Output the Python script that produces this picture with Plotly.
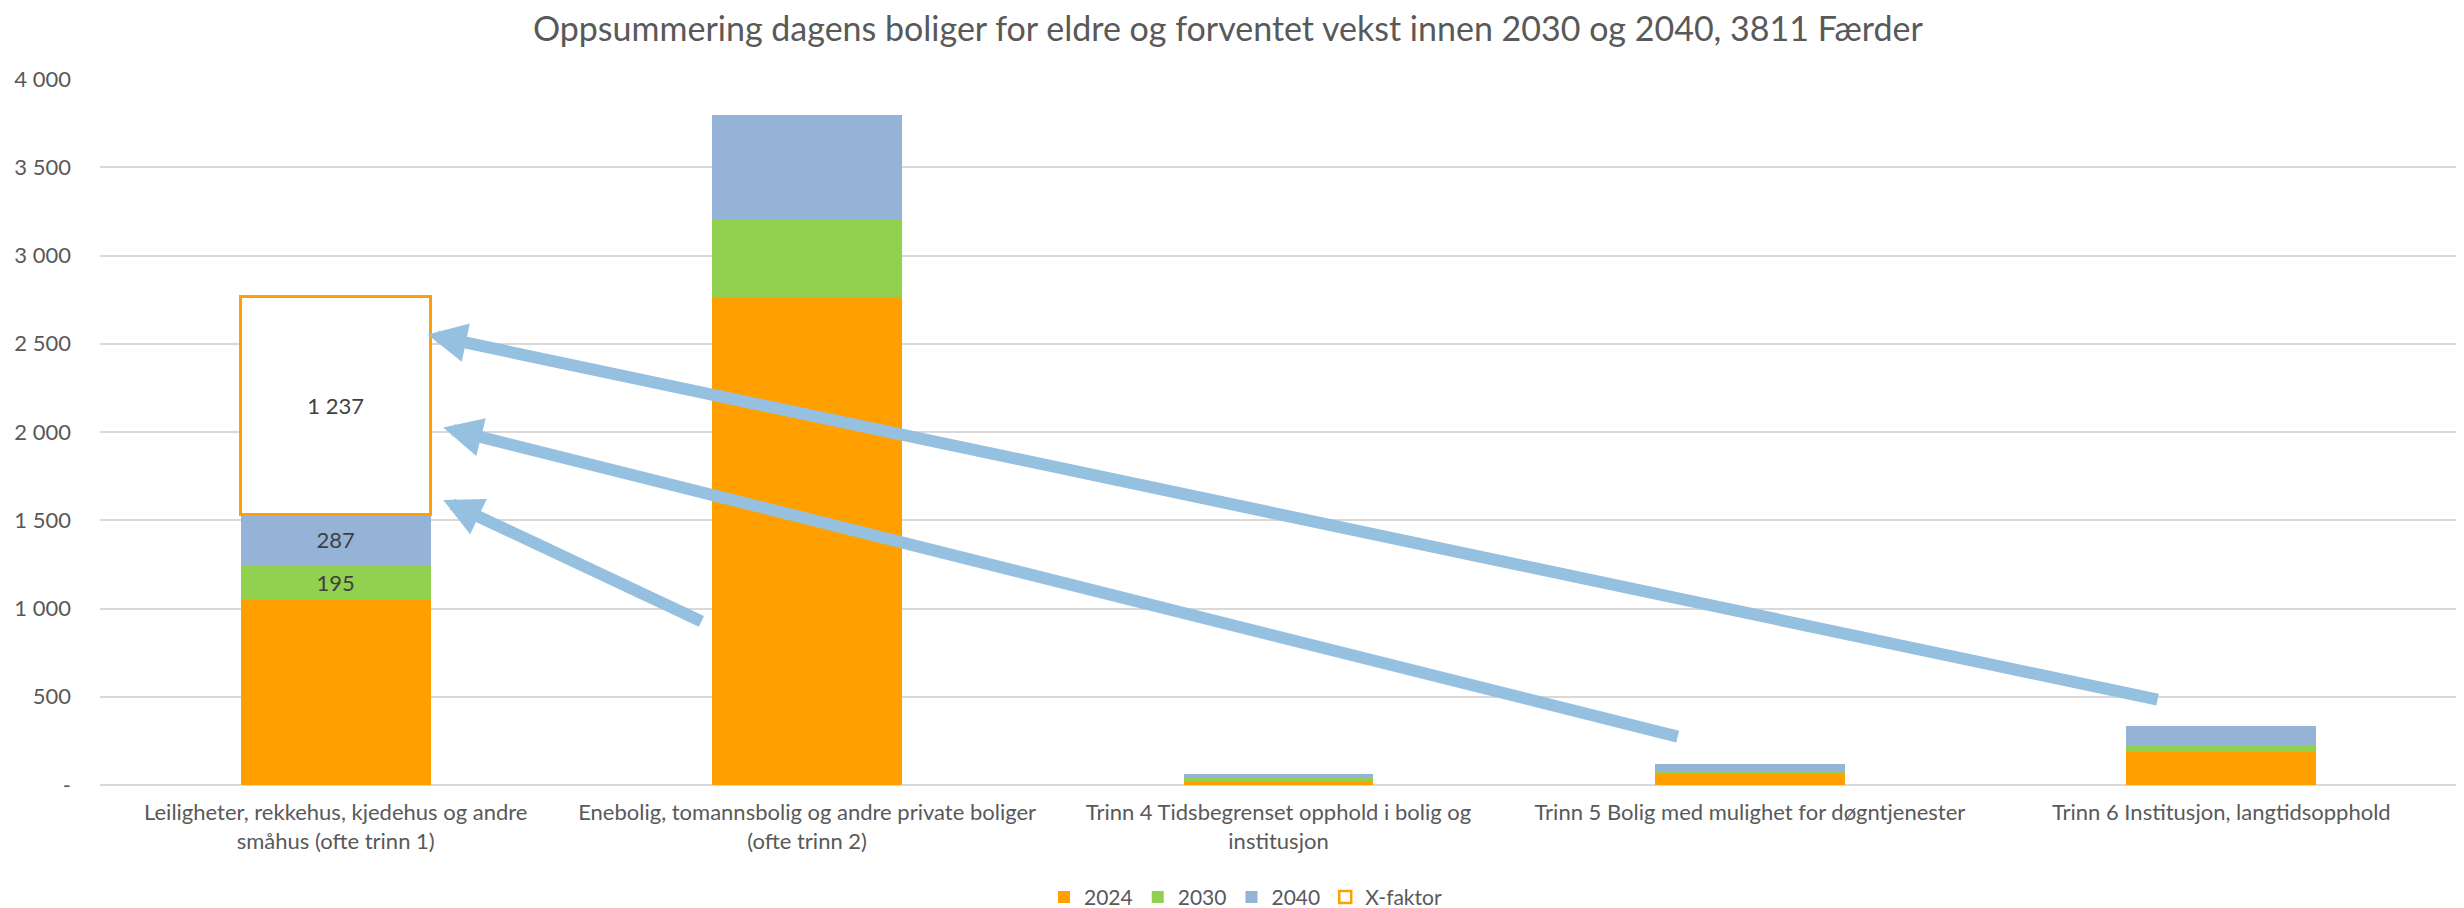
import plotly.graph_objects as go

categories = [
    "Leiligheter, rekkehus, kjedehus og andre<br>småhus (ofte trinn 1)",
    "Enebolig, tomannsbolig og andre private boliger<br>(ofte trinn 2)",
    "Trinn 4 Tidsbegrenset opphold i bolig og<br>institusjon",
    "Trinn 5 Bolig med mulighet for døgntjenester",
    "Trinn 6 Institusjon, langtidsopphold",
]
v2024 = [1050, 2765, 28, 60, 189]
v2030 = [195, 441, 10, 14, 36]
v2040 = [287, 591, 26, 47, 111]
xfaktor = [1237, None, None, None, None]

labelled = [True, False, False, False, False]  # only the first bar carries data labels

tick_vals = [0, 500, 1000, 1500, 2000, 2500, 3000, 3500, 4000]
tick_text = ["-", "500", "1 000", "1 500", "2 000", "2 500", "3 000", "3 500", "4 000"]

# arrows: (tip_x, tip_y, tail_x, tail_y) in category-index / value units
arrows = [
    (0.228, 1615, 0.779, 923),
    (0.228, 2025, 2.850, 272),
    (0.195, 2552, 3.868, 482),
]

FONT = "Lato"
TXT = "#595959"


def fmt(v):
    return f"{v:,}".replace(",", " ")


def labels(vals):
    return [fmt(v) if (lab and v) else "" for v, lab in zip(vals, labelled)]


fig = go.Figure()
series = [
    ("2024", v2024, "#FFA000", False),
    ("2030", v2030, "#92D050", True),
    ("2040", v2040, "#95B3D7", True),
]
for name, vals, col, show in series:
    fig.add_trace(go.Bar(
        name=name, x=categories, y=vals, marker=dict(color=col, line=dict(width=0)),
        text=labels(vals) if show else None, textposition="inside", insidetextanchor="middle",
        textfont=dict(family=FONT, size=22, color="#404040"), textangle=0,
        hoverinfo="skip",
    ))
fig.add_trace(go.Bar(
    name="X-faktor", x=categories, y=xfaktor,
    marker=dict(color="white", line=dict(color="#FFA000", width=2.5)),
    text=labels([v or 0 for v in xfaktor]), textposition="inside", insidetextanchor="middle",
    textfont=dict(family=FONT, size=22, color="#404040"), textangle=0,
    hoverinfo="skip",
))

for tx, ty, ax, ay in arrows:
    fig.add_annotation(
        x=tx, y=ty, ax=ax, ay=ay, xref="x", yref="y", axref="x", ayref="y",
        showarrow=True, arrowhead=2, arrowwidth=12, arrowsize=0.65,
        arrowcolor="#95C0E0", text="", standoff=0,
    )

# page body has an 8px default margin, so the figure is sized to fit inside it
fig.update_layout(
    barmode="stack", bargap=0.597,
    width=2456, height=900,
    margin=dict(l=92, r=7, t=71, b=123, autoexpand=False),
    paper_bgcolor="white", plot_bgcolor="white",
    font=dict(family=FONT, color=TXT, size=20),
    title=dict(text="Oppsummering dagens boliger for eldre og forventet vekst innen 2030 og 2040, 3811 Færder",
               x=0.4967, xref="container", xanchor="center", y=0.977, yref="container", yanchor="middle",
               font=dict(family=FONT, size=34, color=TXT)),
    showlegend=True,
    legend=dict(orientation="h", x=0.486, xanchor="center", y=-0.159, yanchor="middle",
                font=dict(family=FONT, size=21, color=TXT), traceorder="normal"),
)
fig.update_xaxes(showgrid=False, showline=False, ticks="", tickfont=dict(family=FONT, size=22, color=TXT),
                 fixedrange=True, automargin=False, ticklabelstandoff=12)
fig.update_yaxes(range=[0, 4000], tickvals=tick_vals, ticktext=tick_text, showgrid=True,
                 gridcolor="#D9D9D9", gridwidth=2, zeroline=True, zerolinecolor="#D9D9D9",
                 zerolinewidth=2, showline=False, ticks="", ticklabelstandoff=28, automargin=False,
                 tickfont=dict(family=FONT, size=22, color=TXT))

fig.write_html("out.html")
